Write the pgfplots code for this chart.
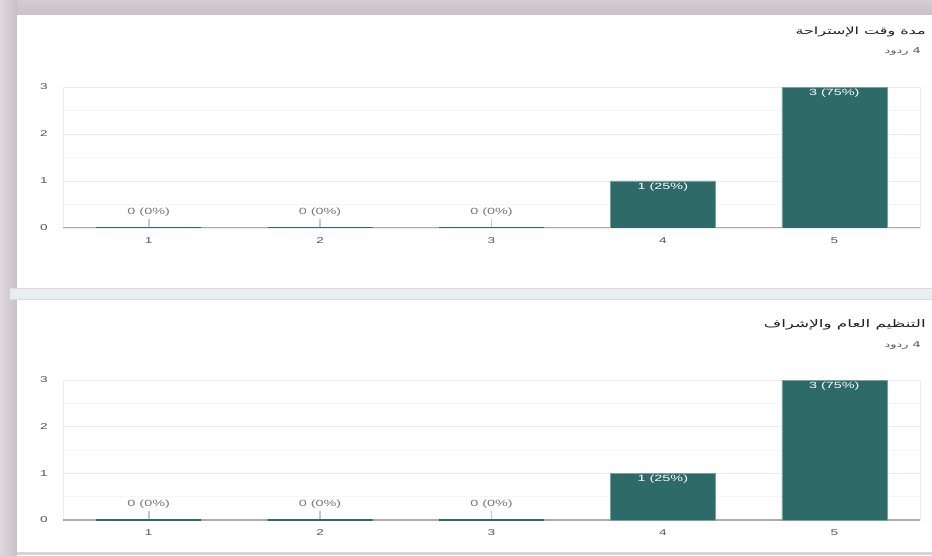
\documentclass[border=0pt]{standalone}
\usepackage{pgfplots}
\pgfplotsset{compat=1.18}
\usepackage{fontspec}
\setmainfont{Liberation Sans}
\newfontfamily\arabicfont[Script=Arabic]{DejaVu Sans}
\TeXXeTstate=1
\definecolor{barteal}{RGB}{46,106,103}
\definecolor{baredge}{RGB}{120,160,158}
\definecolor{ticktxt}{RGB}{85,85,85}
\definecolor{zerotxt}{RGB}{120,120,120}
\definecolor{gridmaj}{RGB}{236,236,236}
\definecolor{gridmin}{RGB}{246,246,246}
\definecolor{shadow}{RGB}{201,192,198}
\definecolor{band}{RGB}{232,238,238}
\definecolor{bandedge}{RGB}{214,222,224}
\definecolor{titletxt}{RGB}{32,33,36}
\pgfplotsset{
  formchart/.style={
    scale only axis,
    width=857pt,
    xmin=0.5, xmax=5.5,
    ymin=0, ymax=3,
    xtick={1,2,3,4,5},
    ytick={0,1,2,3},
    minor y tick num=1,
    ymajorgrids, yminorgrids,
    major grid style={draw=gridmaj, line width=0.8pt},
    minor grid style={draw=gridmin, line width=0.8pt},
    major tick length=0pt, minor tick length=0pt,
    axis line style={draw=gridmaj, line width=0.8pt},
    tick label style={font=\fontsize{8.5}{10}\selectfont, text=ticktxt, xscale=1.6},
    yticklabel style={xshift=-6pt},
    xticklabel style={yshift=-6pt},
    /pgf/number format/assume math mode=true,
    ybar, bar width=105pt,
    point meta=explicit symbolic,
  },
  zerobars/.style={
    bar shift=0pt,
    fill=barteal, draw=barteal, line width=1.2pt,
    nodes near coords={\shortstack{\pgfplotspointmeta\\\textcolor{gray!45}{\rule{1.2pt}{8pt}}}},
    every node near coord/.style={anchor=south, inner sep=0pt, yshift=0pt, xscale=1.6,
      font=\fontsize{9}{10}\selectfont, text=zerotxt},
  },
  valbars/.style={
    bar shift=0pt,
    fill=barteal, draw=baredge, line width=0.6pt,
    nodes near coords={\pgfplotspointmeta},
    every node near coord/.style={anchor=north, inner sep=0pt, yshift=-1.5pt, xscale=1.6,
      font=\fontsize{9}{10}\selectfont, text=white},
  },
}
\begin{document}
\begin{tikzpicture}[x=1pt,y=1pt]
% canvas
\path[use as bounding box] (0,0) rectangle (932,555);
\fill[white] (0,0) rectangle (932,555);
% card shadow
\shade[top color=shadow!80, bottom color=shadow] (0,540) rectangle (932,555);
\shade[left color=shadow!60, right color=shadow] (0,0) rectangle (17,555);
\fill[white] (17,3) rectangle (932,540);
\fill[shadow!70] (17,0) rectangle (932,3);
% separator band
\fill[band] (10,256) rectangle (932,267);
\draw[bandedge, line width=0.8pt] (10,267) -- (932,267);
\draw[bandedge, line width=0.8pt] (10,256) -- (932,256);
% titles
\node[anchor=east, inner sep=0pt, text=titletxt, xscale=1.6, font=\fontsize{10}{12}\selectfont] at (926,523)
  {\arabicfont\beginR مدة وقت الإستراحة\endR};
\node[anchor=east, inner sep=0pt, text=ticktxt, xscale=1.6, font=\fontsize{8}{9}\selectfont] at (921,503)
  {\arabicfont\beginR 4 ردود\endR};
\node[anchor=east, inner sep=0pt, text=titletxt, xscale=1.6, font=\fontsize{10.5}{12}\selectfont] at (926,230)
  {\arabicfont\beginR التنظيم العام والإشراف\endR};
\node[anchor=east, inner sep=0pt, text=ticktxt, xscale=1.6, font=\fontsize{8}{9}\selectfont] at (921,209)
  {\arabicfont\beginR 4 ردود\endR};

% top chart
\begin{axis}[formchart, height=141pt, at={(63pt,327pt)}, anchor=south west]
\draw[gray!65, line width=1.3pt] (axis cs:0.5,0) -- (axis cs:5.5,0);
\addplot[zerobars] coordinates {(1,0) [0 (0\%)] (2,0) [0 (0\%)] (3,0) [0 (0\%)]};
\addplot[valbars] coordinates {(4,1) [1 (25\%)] (5,3) [3 (75\%)]};
\end{axis}

% bottom chart
\begin{axis}[formchart, height=140pt, at={(63pt,35pt)}, anchor=south west]
\draw[gray!65, line width=1.3pt] (axis cs:0.5,0) -- (axis cs:5.5,0);
\addplot[zerobars] coordinates {(1,0) [0 (0\%)] (2,0) [0 (0\%)] (3,0) [0 (0\%)]};
\addplot[valbars] coordinates {(4,1) [1 (25\%)] (5,3) [3 (75\%)]};
\end{axis}
\end{tikzpicture}
\end{document}
